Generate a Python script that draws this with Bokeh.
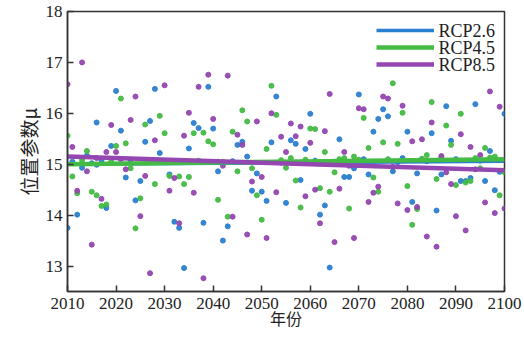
from bokeh.plotting import figure
from bokeh.models import Range1d, FixedTicker, Legend, LegendItem, Label
from bokeh.embed import file_html
from bokeh.resources import INLINE

# ---- data ----
years_26 = [2010, 2011, 2012, 2013, 2014, 2015, 2016, 2016, 2017, 2018, 2019, 2020, 2021, 2022, 2023, 2024,
            2025, 2026, 2027, 2028, 2029, 2030, 2031, 2032, 2033, 2034, 2035, 2036, 2037, 2038, 2039, 2040,
            2041, 2042, 2043, 2044, 2045, 2046, 2047, 2048, 2049, 2050, 2051, 2052, 2053, 2054, 2055, 2056,
            2057, 2058, 2059, 2060, 2061, 2062, 2063, 2064, 2065, 2066, 2067, 2068, 2069, 2070, 2071, 2072,
            2073, 2074, 2075, 2076, 2077, 2078, 2079, 2080, 2081, 2082, 2083, 2084, 2085, 2086, 2087, 2088,
            2089, 2090, 2091, 2092, 2093, 2094, 2095, 2096, 2097, 2098, 2099, 2100]
vals_26 = [13.75, 15.05, 14.01, 14.93, 15.17, 15.02, 15.82, 14.99, 15.08, 14.14, 15.36, 16.44, 15.66, 14.74, 15.08, 14.29,
           14.67, 15.44, 15.85, 16.48, 15.22, 15.04, 14.80, 13.87, 13.75, 12.96, 15.31, 15.81, 15.71, 13.85, 16.52, 15.70,
           14.86, 13.50, 13.78, 15.06, 15.38, 15.44, 15.15, 14.48, 14.82, 14.46, 14.28, 15.43, 16.33, 15.03, 14.24, 15.47,
           15.40, 14.69, 15.30, 15.99, 15.07, 14.01, 14.19, 12.97, 15.05, 15.49, 14.75, 14.75, 14.92, 16.37, 15.10, 14.80,
           15.64, 15.89, 16.08, 15.94, 14.86, 15.04, 15.12, 15.64, 14.26, 14.82, 15.08, 15.06, 15.61, 14.09, 14.80, 16.14,
           15.46, 15.10, 14.67, 14.67, 14.73, 16.18, 15.07, 14.67, 15.26, 14.49, 14.85, 15.99]

years_45 = [2010, 2011, 2012, 2013, 2014, 2015, 2016, 2017, 2018, 2019, 2020, 2021, 2022, 2023, 2024, 2025,
            2026, 2027, 2028, 2029, 2030, 2031, 2032, 2033, 2034, 2035, 2036, 2037, 2038, 2039, 2040, 2041,
            2042, 2043, 2044, 2045, 2046, 2047, 2048, 2049, 2050, 2051, 2052, 2053, 2054, 2055, 2056, 2057,
            2058, 2059, 2060, 2061, 2062, 2063, 2064, 2065, 2066, 2067, 2068, 2069, 2070, 2071, 2072, 2073,
            2074, 2075, 2076, 2077, 2078, 2079, 2080, 2081, 2082, 2083, 2084, 2085, 2086, 2087, 2088, 2089,
            2090, 2091, 2092, 2093, 2094, 2095, 2096, 2097, 2098, 2099, 2100]
vals_45 = [15.56, 14.76, 14.43, 15.08, 15.26, 14.46, 14.39, 14.18, 14.21, 15.05, 15.36, 16.29, 15.41, 14.92, 13.74, 14.33,
           15.78, 15.06, 14.61, 15.95, 15.61, 14.77, 15.04, 14.76, 14.61, 14.75, 15.61, 15.07, 15.62, 15.45, 15.39, 14.30,
           15.05, 13.97, 15.64, 14.86, 16.06, 15.84, 14.92, 14.39, 13.91, 15.30, 16.54, 15.97, 15.08, 14.93, 15.12, 14.68,
           14.15, 15.09, 15.70, 15.69, 14.53, 15.24, 14.46, 14.84, 15.10, 15.12, 14.13, 15.15, 15.09, 15.91, 15.32, 14.74,
           14.46, 15.43, 15.10, 16.59, 15.40, 16.01, 14.57, 13.81, 14.12, 15.11, 15.18, 16.22, 14.71, 15.13, 15.76, 15.38,
           14.59, 15.99, 14.64, 14.67, 15.12, 14.92, 15.32, 15.13, 15.15, 14.39, 14.84]

years_85 = [2010, 2011, 2012, 2013, 2014, 2015, 2016, 2017, 2018, 2019, 2020, 2021, 2022, 2023, 2024, 2025,
            2026, 2027, 2028, 2029, 2030, 2031, 2032, 2033, 2034, 2035, 2036, 2037, 2038, 2039, 2040, 2041,
            2042, 2043, 2044, 2045, 2046, 2047, 2048, 2049, 2050, 2051, 2052, 2053, 2054, 2055, 2056, 2057,
            2058, 2059, 2060, 2061, 2062, 2063, 2064, 2065, 2066, 2067, 2068, 2069, 2070, 2071, 2072, 2073,
            2074, 2075, 2076, 2077, 2078, 2079, 2080, 2081, 2082, 2083, 2084, 2085, 2086, 2087, 2088, 2089,
            2090, 2091, 2092, 2093, 2094, 2095, 2096, 2097, 2098, 2099, 2100]
vals_85 = [16.57, 15.34, 14.48, 17.00, 14.86, 13.42, 15.12, 14.32, 15.24, 15.77, 15.24, 15.10, 14.90, 15.87, 16.33, 13.98,
           14.77, 12.86, 15.47, 15.05, 16.55, 14.48, 14.73, 13.84, 15.56, 16.01, 14.44, 16.52, 12.76, 16.76, 15.89, 15.05,
           14.97, 16.74, 13.97, 15.58, 15.38, 13.62, 14.66, 15.84, 14.75, 13.55, 16.00, 14.45, 15.54, 15.24, 15.80, 15.55,
           15.74, 14.37, 15.42, 14.50, 13.84, 15.65, 16.38, 13.47, 14.52, 15.24, 14.97, 13.55, 16.10, 16.08, 14.26, 14.44,
           14.56, 16.33, 16.29, 14.95, 14.23, 16.15, 14.10, 15.45, 14.16, 15.49, 13.58, 15.82, 13.38, 15.16, 14.84, 14.61,
           13.98, 15.59, 13.70, 15.34, 14.90, 15.18, 14.25, 16.43, 14.04, 16.13, 14.13]

series_names = ["RCP2.6", "RCP4.5", "RCP8.5"]
trend_years = [2010, 2100]
trend_26 = [15.00, 15.06]
trend_45 = [15.00, 15.10]
trend_85 = [15.15, 14.88]

x_ticks = [2010, 2020, 2030, 2040, 2050, 2060, 2070, 2080, 2090, 2100]
y_ticks = [13, 14, 15, 16, 17, 18]
x_title = "年份"
y_title = "位置参数μ"

# ---- styles ----
colors = ["#2b7fcf", "#44bb44", "#9447b0"]
line_widths = [3.5, 4.5, 4.5]
serif = "Liberation Serif"
cjk = "Noto Sans CJK SC"
txt = "#222222"

XMIN, XMAX, YMIN, YMAX = 2010, 2100, 12.5, 18
FRAME_W, FRAME_H = 437, 280
p = figure(width=524, height=341, output_backend="svg", toolbar_location=None,
           x_range=Range1d(XMIN, XMAX), y_range=Range1d(YMIN, YMAX),
           min_border_left=67, min_border_right=20, min_border_top=11, min_border_bottom=50)
p.grid.visible = False
p.outline_line_color = "#333333"
p.outline_line_width = 1.5
p.background_fill_color = "white"

for xs, ys, c in zip([years_26, years_45, years_85], [vals_26, vals_45, vals_85], colors):
    p.scatter(xs, ys, size=5, color=c, line_color=c, alpha=0.95)

items = []
for ty, c, lw in zip([trend_26, trend_45, trend_85], colors, line_widths):
    r = p.line(trend_years, ty, color=c, line_width=lw)
    items.append(LegendItem(label=" ", renderers=[r]))

# legend swatches; the names are drawn as serif labels next to them
legend = Legend(items=items, location=(306, 216))
legend.label_text_alpha = 0
legend.label_width = 59
legend.glyph_width = 58
legend.glyph_height = 16
legend.label_height = 16
legend.label_standoff = 4
legend.spacing = 1
legend.padding = 3
legend.margin = 0
legend.background_fill_alpha = 0
legend.border_line_alpha = 0
p.add_layout(legend)

px_x = (XMAX - XMIN) / FRAME_W
px_y = (YMAX - YMIN) / FRAME_H
for i, name in enumerate(series_names):
    p.add_layout(Label(x=XMAX - 66 * px_x, y=YMAX - (19 + 17 * i) * px_y, text=name,
                       text_font=serif, text_font_size="18px", text_color=txt,
                       text_align="left", text_baseline="middle"))

for ax in (p.xaxis[0], p.yaxis[0]):
    ax.major_label_text_font = serif
    ax.major_label_text_font_size = "17px"
    ax.major_label_text_color = txt
    ax.axis_line_color = "#333333"
    ax.axis_line_width = 1.5
    ax.major_tick_line_color = "#333333"
    ax.major_tick_line_width = 1.5
    ax.major_tick_in = 6
    ax.major_tick_out = 0
    ax.minor_tick_line_color = None
    ax.axis_label_text_font = cjk
    ax.axis_label_text_font_style = "normal"
    ax.axis_label_text_color = txt

p.xaxis[0].ticker = FixedTicker(ticks=x_ticks)
p.yaxis[0].ticker = FixedTicker(ticks=y_ticks)
p.xaxis[0].major_label_standoff = 6
p.yaxis[0].major_label_standoff = 5
p.xaxis[0].axis_label = x_title
p.yaxis[0].axis_label = y_title
p.xaxis[0].axis_label_text_font_size = "16px"
p.yaxis[0].axis_label_text_font_size = "19px"
p.xaxis[0].axis_label_standoff = -6
p.yaxis[0].axis_label_standoff = 1

open("out.html", "w").write(file_html(p, INLINE))
